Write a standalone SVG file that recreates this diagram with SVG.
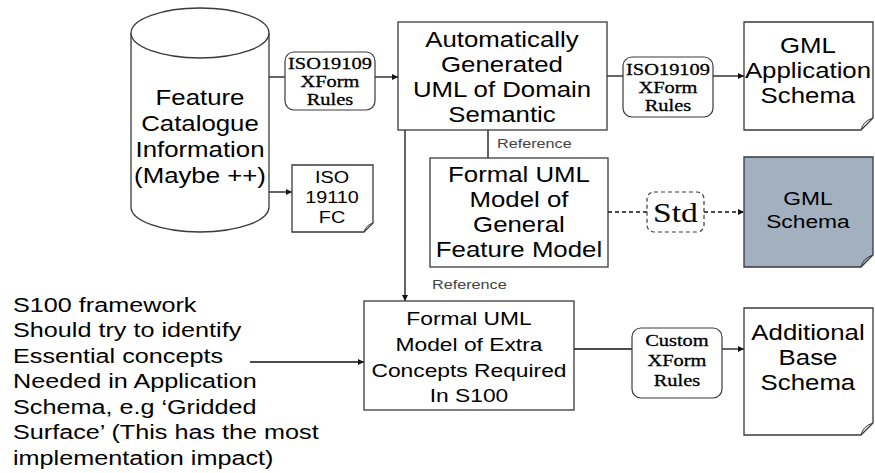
<svg xmlns="http://www.w3.org/2000/svg" width="875" height="473" viewBox="0 0 875 473">
  <style>
    .shape { fill: #ffffff; stroke: #3a3a3a; stroke-width: 1.3; }
    .fold { fill: none; stroke: #3a3a3a; stroke-width: 1; }
    .rule { fill: #ffffff; stroke: #3a3a3a; stroke-width: 1.2; }
    .std { fill: #ffffff; stroke: #3a3a3a; stroke-width: 1.2; stroke-dasharray: 4 3; }
    .grey { fill: #a3b0c0; stroke: #3a3a3a; stroke-width: 1.3; }
    .wire { fill: none; stroke: #111111; stroke-width: 1.3; }
    .dash { fill: none; stroke: #111111; stroke-width: 1.3; stroke-dasharray: 4 3; }
    text { transform-box: fill-box; transform-origin: center; transform: scaleX(1.2); fill: #000000; }
    .sans { font-family: "Liberation Sans", Arial, sans-serif; font-size: 21.5px; text-anchor: middle; }
    .mid { font-family: "Liberation Sans", Arial, sans-serif; font-size: 19px; text-anchor: middle; }
    .small { font-family: "Liberation Sans", Arial, sans-serif; font-size: 16.5px; text-anchor: middle; }
    .note { font-family: "Liberation Sans", Arial, sans-serif; font-size: 13.5px; fill: #444444; transform-origin: left center; }
    .side { font-family: "Liberation Sans", Arial, sans-serif; font-size: 21px; transform-origin: left center; }
    .serif { font-family: "Liberation Serif", "Times New Roman", serif; font-size: 17px; text-anchor: middle; stroke: #000000; stroke-width: 0.3; }
    .big { font-family: "Liberation Serif", "Times New Roman", serif; font-size: 28px; text-anchor: middle; }
  </style>
  <defs>
    <marker id="arrow" viewBox="0 0 10 10" refX="10" refY="5" markerWidth="6" markerHeight="6" markerUnits="userSpaceOnUse" orient="auto">
      <path d="M0,0 L10,5 L0,10 Z" fill="#111111"/>
    </marker>
  </defs>

  <!-- connectors -->
  <g id="connectors">
    <path class="wire" d="M269,77 H285"/>
    <path class="wire" d="M375,77 H398" marker-end="url(#arrow)"/>
    <path class="wire" d="M607,76 H623"/>
    <path class="wire" d="M713,76 H744" marker-end="url(#arrow)"/>
    <path class="wire" d="M488,119 V164" marker-end="url(#arrow)"/>
    <path class="wire" d="M405,130 V301" marker-end="url(#arrow)"/>
    <path class="wire" d="M269,192 H292" marker-end="url(#arrow)"/>
    <path class="dash" d="M608,212 H647"/>
    <path class="dash" d="M704,212 H744" marker-end="url(#arrow)"/>
    <path class="wire" d="M250,362 H364" marker-end="url(#arrow)"/>
    <path class="wire" d="M574,349 H632"/>
    <path class="wire" d="M722,349 H744" marker-end="url(#arrow)"/>
  </g>

  <!-- feature catalogue store -->
  <g id="catalogue">
    <path class="shape" d="M131,33 V207 A69,25 0 0 0 269,207 V33"/>
    <ellipse class="shape" cx="200" cy="33" rx="69" ry="25"/>
    <text class="sans" x="200" y="105">Feature</text>
    <text class="sans" x="200" y="131">Catalogue</text>
    <text class="sans" x="200" y="157">Information</text>
    <text class="sans" x="200" y="183">(Maybe ++)</text>
  </g>

  <g id="xform-left">
    <rect class="rule" x="285" y="52" width="90" height="58" rx="9"/>
    <text class="serif" x="330" y="69">ISO19109</text>
    <text class="serif" x="330" y="87">XForm</text>
    <text class="serif" x="330" y="105">Rules</text>
  </g>

  <g id="auto-uml">
    <rect class="shape" x="398" y="22" width="209" height="108"/>
    <text class="sans" x="502" y="47">Automatically</text>
    <text class="sans" x="502" y="72">Generated</text>
    <text class="sans" x="502" y="97">UML of Domain</text>
    <text class="sans" x="502" y="122">Semantic</text>
  </g>

  <g id="xform-right">
    <rect class="rule" x="623" y="57" width="90" height="60" rx="9"/>
    <text class="serif" x="668" y="75">ISO19109</text>
    <text class="serif" x="668" y="93">XForm</text>
    <text class="serif" x="668" y="111">Rules</text>
  </g>

  <g id="gml-app-schema">
    <path class="shape" d="M744,22 H873 V118 L861,130 H744 Z"/>
    <path class="fold" d="M861,130 Q863,121 873,118"/>
    <text class="sans" x="808" y="53">GML</text>
    <text class="sans" x="808" y="78">Application</text>
    <text class="sans" x="808" y="103">Schema</text>
  </g>

  <text class="note" x="497" y="148">Reference</text>

  <g id="iso19110">
    <path class="shape" d="M292,165 H373 V223 L364,232 H292 Z"/>
    <path class="fold" d="M364,232 Q366,225 373,223"/>
    <text class="small" x="332" y="183">ISO</text>
    <text class="small" x="332" y="203">19110</text>
    <text class="small" x="332" y="223">FC</text>
  </g>

  <g id="general-feature-model">
    <rect class="shape" x="430" y="158" width="178" height="109"/>
    <text class="sans" x="519" y="182">Formal UML</text>
    <text class="sans" x="519" y="207">Model of</text>
    <text class="sans" x="519" y="232">General</text>
    <text class="sans" x="519" y="257">Feature Model</text>
  </g>

  <g id="std">
    <rect class="std" x="647" y="192" width="57" height="40" rx="7"/>
    <text class="big" x="675.5" y="222">Std</text>
  </g>

  <g id="gml-schema">
    <path class="grey" d="M744,157 H873 V255 L861,267 H744 Z"/>
    <path class="fold" d="M861,267 Q863,258 873,255"/>
    <text class="mid" x="808" y="205">GML</text>
    <text class="mid" x="808" y="228">Schema</text>
  </g>

  <text class="note" x="432" y="289">Reference</text>

  <g id="s100-note">
    <text class="side" x="13" y="312">S100 framework</text>
    <text class="side" x="13" y="337.5">Should try to identify</text>
    <text class="side" x="13" y="363">Essential concepts</text>
    <text class="side" x="13" y="388.5">Needed in Application</text>
    <text class="side" x="13" y="414">Schema, e.g ‘Gridded</text>
    <text class="side" x="13" y="439.5">Surface’ (This has the most</text>
    <text class="side" x="13" y="465">implementation impact)</text>
  </g>

  <g id="extra-concepts">
    <rect class="shape" x="364" y="301" width="210" height="109"/>
    <text class="mid" x="469" y="325">Formal UML</text>
    <text class="mid" x="469" y="351">Model of Extra</text>
    <text class="mid" x="469" y="377">Concepts Required</text>
    <text class="mid" x="469" y="402">In S100</text>
  </g>

  <g id="xform-custom">
    <rect class="rule" x="632" y="328" width="90" height="70" rx="9"/>
    <text class="serif" x="677" y="346">Custom</text>
    <text class="serif" x="677" y="366">XForm</text>
    <text class="serif" x="677" y="386">Rules</text>
  </g>

  <g id="additional-schema">
    <path class="shape" d="M744,308 H873 V423 L861,435 H744 Z"/>
    <path class="fold" d="M861,435 Q863,426 873,423"/>
    <text class="sans" x="808" y="340">Additional</text>
    <text class="sans" x="808" y="365">Base</text>
    <text class="sans" x="808" y="390">Schema</text>
  </g>
</svg>
